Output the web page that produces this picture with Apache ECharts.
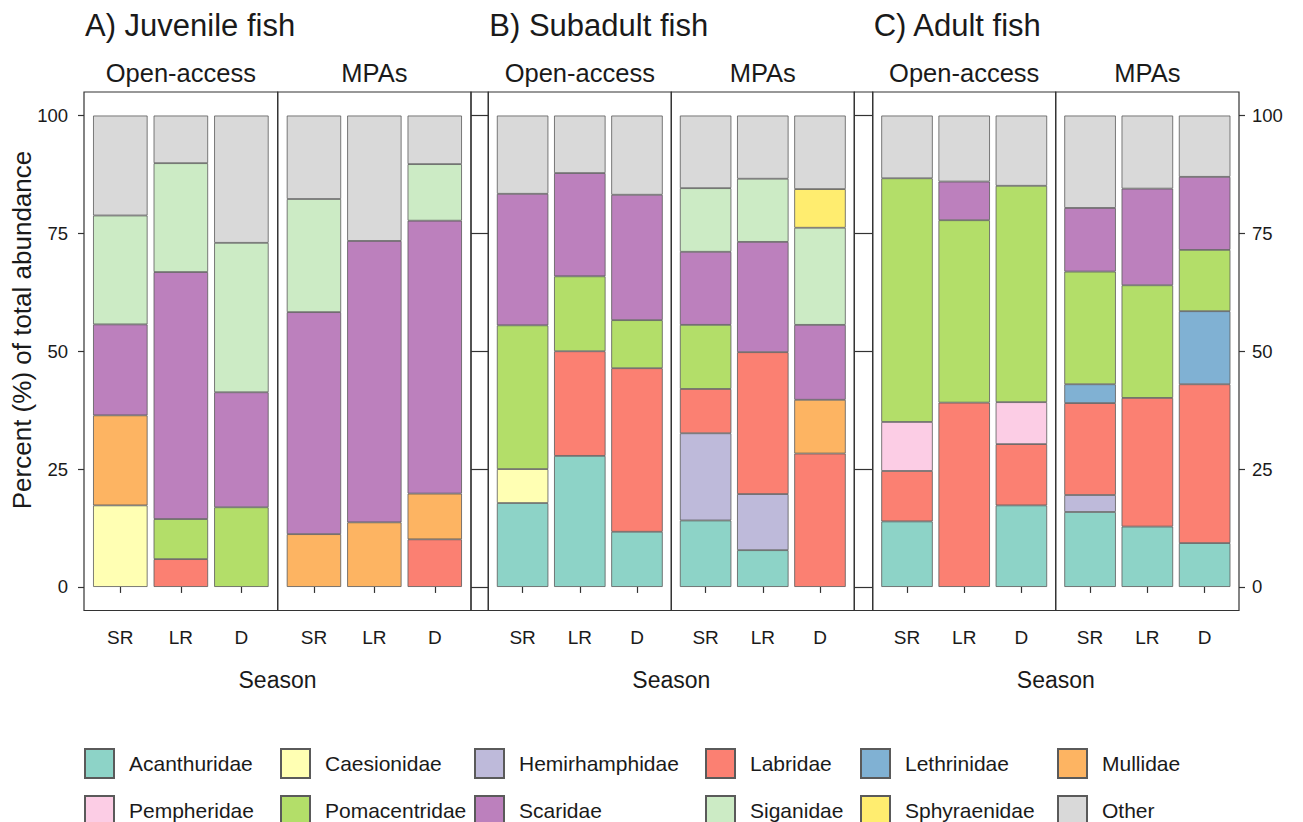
<!DOCTYPE html>
<html><head><meta charset="utf-8">
<script src="https://cdn.jsdelivr.net/npm/echarts@6/dist/echarts.min.js"></script>
<style>html,body{margin:0;padding:0;background:#fff}#c{width:1303px;height:822px}</style>
</head><body><div id="c"></div>
<script>
// ---------- data ----------
const families = ['Acanthuridae','Caesionidae','Hemirhamphidae','Labridae','Lethrinidae','Mullidae','Pempheridae','Pomacentridae','Scaridae','Siganidae','Sphyraenidae','Other'];
const familyColors = ['#8DD3C7','#FFFFB3','#BEBADA','#FB8072','#80B1D3','#FDB462','#FCCDE5','#B3DE69','#BC80BD','#CCEBC5','#FFED6F','#D9D9D9'];
const seasons = ['SR','LR','D'];
const yTicks = [0,25,50,75,100];
const groupTitles = ['A) Juvenile fish','B) Subadult fish','C) Adult fish'];
const stripLabels = ['Open-access','MPAs'];
const xTitle = 'Season';
const yTitle = 'Percent (%) of total abundance';
const _ = null;
// rows follow `families`; columns follow `seasons` (SR, LR, D)
const juvenileOpen = [
  [_,_,_],[17.3,_,_],[_,_,_],[_,5.9,_],[_,_,_],[19.1,_,_],
  [_,_,_],[_,8.5,16.9],[19.3,52.4,24.4],[23.1,23.1,31.7],[_,_,_],[21.2,10.1,27.0]
];
const juvenileMPA = [
  [_,_,_],[_,_,_],[_,_,_],[_,_,10.1],[_,_,_],[11.2,13.7,9.7],
  [_,_,_],[_,_,_],[47.1,59.7,57.9],[24.0,_,12.0],[_,_,_],[17.7,26.6,10.3]
];
const subadultOpen = [
  [17.8,27.8,11.7],[7.2,_,_],[_,_,_],[_,22.2,34.7],[_,_,_],[_,_,_],
  [_,_,_],[30.5,15.9,10.2],[27.9,21.9,26.6],[_,_,_],[_,_,_],[16.6,12.2,16.8]
];
const subadultMPA = [
  [14.1,7.8,_],[_,_,_],[18.5,11.9,_],[9.4,30.1,28.3],[_,_,_],[_,_,11.4],
  [_,_,_],[13.6,_,_],[15.5,23.4,15.9],[13.5,13.4,20.6],[_,_,8.2],[15.4,13.4,15.6]
];
const adultOpen = [
  [13.9,_,17.3],[_,_,_],[_,_,_],[10.7,39.1,13.0],[_,_,_],[_,_,_],
  [10.4,_,8.9],[51.7,38.7,45.9],[_,8.2,_],[_,_,_],[_,_,_],[13.3,14.0,14.9]
];
const adultMPA = [
  [15.9,12.8,9.3],[_,_,_],[3.6,_,_],[19.5,27.3,33.7],[4.0,_,15.5],[_,_,_],
  [_,_,_],[23.9,23.9,13.0],[13.5,20.5,15.5],[_,_,_],[_,_,_],[19.6,15.5,13.0]
];
const panelData = [juvenileOpen, juvenileMPA, subadultOpen, subadultMPA, adultOpen, adultMPA];

// ---------- layout ----------
const FONT = '"Liberation Sans", Arial, Helvetica, sans-serif';
const TXT = '#1a1a1a';
const LINE = '#333333';
const TOP = 92, BOTTOM = 610.5;
const groupEdges = [[84, 277.7, 471], [488.3, 671.3, 854.3], [872.7, 1055.7, 1239]];
const legendX = [84, 280, 474, 705, 860, 1057];
const legendY = [748, 795];

const grids = [], xAxes = [], yAxes = [], series = [], graphics = [], legends = [];

panelData.forEach((rows, p) => {
  const g = Math.floor(p / 2), f = p % 2;
  const L = groupEdges[g][f], R = groupEdges[g][f + 1];
  const unit = (R - L) / 3.2, pad = 0.1 * unit;
  grids.push({left: L + pad, width: 3 * unit, top: TOP, height: BOTTOM - TOP});
  xAxes.push({
    gridIndex: p, type: 'category', data: seasons,
    axisLine: {show: false},
    axisTick: {show: true, alignWithLabel: true, length: 6, lineStyle: {color: LINE, width: 1.2}},
    axisLabel: {fontSize: 19, color: TXT, margin: 17, fontFamily: FONT}
  });
  const y = {
    gridIndex: p, type: 'value', min: -5, max: 105, offset: pad,
    position: p === 5 ? 'right' : 'left',
    axisLine: {show: false}, splitLine: {show: false},
    axisTick: {show: false, customValues: yTicks, lineStyle: {color: LINE, width: 1.2}},
    axisLabel: {show: false, customValues: yTicks, fontSize: 18.5, color: TXT, fontFamily: FONT}
  };
  if (p === 0) {
    y.axisTick.show = true; y.axisTick.length = 6;
    y.axisLabel.show = true; y.axisLabel.margin = 16;
  } else if (p === 5) {
    y.axisTick.show = true; y.axisTick.length = 6;
    y.axisLabel.show = true; y.axisLabel.margin = 13;
  } else if (f === 0) {
    y.axisTick.show = true; y.axisTick.length = L - groupEdges[g - 1][2];
  }
  yAxes.push(y);
  rows.forEach((vals, i) => {
    series.push({
      type: 'bar', name: families[i], xAxisIndex: p, yAxisIndex: p, stack: 'p' + p,
      barWidth: '90%',
      data: vals.map(v => v == null ? '-' : v),
      itemStyle: {color: familyColors[i], borderColor: '#5a5a5a', borderWidth: 0.8}
    });
  });
  graphics.push({type: 'rect', z: 100, silent: true,
    shape: {x: L, y: TOP, width: R - L, height: BOTTOM - TOP},
    style: {fill: null, stroke: LINE, lineWidth: 1.2}});
  graphics.push({type: 'text', z: 100, silent: true, x: (L + R) / 2, y: 73,
    style: {text: stripLabels[f], font: '25.5px ' + FONT, fill: TXT, align: 'center', verticalAlign: 'middle'}});
});

groupEdges.forEach((e, g) => {
  if (g > 0) {
    const gl = groupEdges[g - 1][2];
    graphics.push({type: 'rect', z: 100, silent: true,
      shape: {x: gl, y: TOP, width: e[0] - gl, height: BOTTOM - TOP},
      style: {fill: null, stroke: LINE, lineWidth: 1.2}});
  }
  graphics.push({type: 'text', z: 100, silent: true, x: e[0] + 1, y: 25,
    style: {text: groupTitles[g], font: '31px ' + FONT, fill: TXT, align: 'left', verticalAlign: 'middle'}});
  graphics.push({type: 'text', z: 100, silent: true, x: (e[0] + e[2]) / 2, y: 680,
    style: {text: xTitle, font: '23px ' + FONT, fill: TXT, align: 'center', verticalAlign: 'middle'}});
});

graphics.push({type: 'text', z: 100, silent: true, x: 22, y: 330, rotation: Math.PI / 2,
  style: {text: yTitle, font: '26px ' + FONT, fill: TXT, align: 'center', verticalAlign: 'middle'}});

families.forEach((name, i) => {
  legends.push({
    left: legendX[i % 6], top: legendY[Math.floor(i / 6)], padding: 0,
    itemWidth: 29, itemHeight: 29, icon: 'rect', selectedMode: false,
    data: [name],
    textStyle: {fontSize: 21, color: TXT, fontFamily: FONT, padding: [0, 0, 0, 10]}
  });
});

const chart = echarts.init(document.getElementById('c'), null, {renderer: 'svg'});
chart.setOption({
  backgroundColor: '#ffffff',
  animation: false,
  grid: grids, xAxis: xAxes, yAxis: yAxes,
  legend: legends,
  series: series,
  graphic: graphics
});
</script>
</body></html>
